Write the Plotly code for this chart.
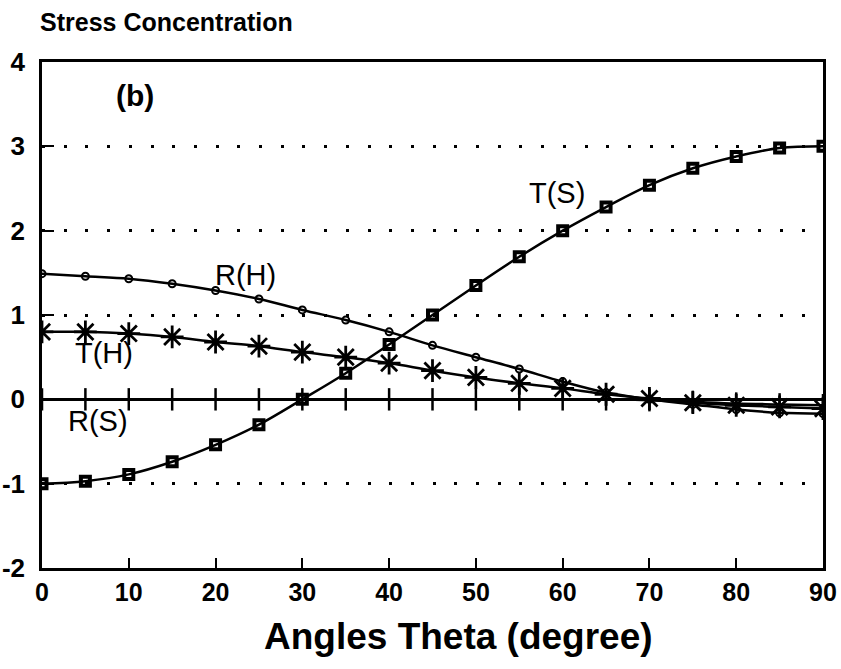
import plotly.graph_objects as go

theta = [0, 5, 10, 15, 20, 25, 30, 35, 40, 45, 50, 55, 60, 65, 70, 75, 80, 85, 90]
T_S = [-1.0, -0.97, -0.89, -0.74, -0.54, -0.30, 0.0, 0.31, 0.65, 1.0, 1.35, 1.69, 2.0, 2.28, 2.54, 2.74, 2.88, 2.98, 3.0]
R_H = [1.49, 1.46, 1.43, 1.37, 1.29, 1.19, 1.06, 0.94, 0.80, 0.64, 0.50, 0.36, 0.21, 0.08, 0.0, -0.06, -0.12, -0.16, -0.17]
T_H = [0.80, 0.80, 0.78, 0.74, 0.68, 0.63, 0.56, 0.50, 0.43, 0.34, 0.26, 0.19, 0.13, 0.06, 0.01, -0.04, -0.07, -0.09, -0.11]
R_S = [0.0, 0.0, 0.0, 0.0, 0.0, 0.0, 0.0, 0.0, 0.0, 0.0, 0.0, 0.0, 0.0, 0.0, -0.01, -0.03, -0.05, -0.06, -0.07]

x_ticks = [0, 10, 20, 30, 40, 50, 60, 70, 80, 90]
y_ticks = [-2, -1, 0, 1, 2, 3, 4]

labels = [("R(H)", 23.4, 1.47), ("T(H)", 7.1, 0.55), ("T(S)", 59.4, 2.45), ("R(S)", 6.4, -0.26)]

FONT = "Liberation Sans, Arial, Helvetica, sans-serif"

fig = go.Figure()

fig.add_trace(go.Scatter(x=theta, y=R_S, mode="lines+markers", line=dict(color="black", width=2.5, shape="spline"),
                         marker=dict(symbol="line-ns-open", size=16, line=dict(color="black", width=2.5)), showlegend=False))
fig.add_trace(go.Scatter(x=theta, y=R_H, mode="lines+markers", line=dict(color="black", width=2.5, shape="spline"),
                         marker=dict(symbol="circle-open", size=7, line=dict(color="black", width=2)), showlegend=False))
fig.add_trace(go.Scatter(x=theta, y=T_H, mode="lines+markers", line=dict(color="black", width=2.5, shape="spline"),
                         marker=dict(symbol="asterisk-open", size=19, line=dict(color="black", width=2.8)), showlegend=False))
fig.add_trace(go.Scatter(x=theta, y=T_S, mode="lines+markers", line=dict(color="black", width=2.5, shape="spline"),
                         marker=dict(symbol="square-open", size=9, line=dict(color="black", width=4)), showlegend=False))

for txt, lx, ly in labels:
    fig.add_annotation(x=lx, y=ly, text=txt, showarrow=False, xref="x", yref="y",
                       font=dict(family=FONT, size=29, color="black"))

fig.add_annotation(x=10.7, y=3.6, text="<b>(b)</b>", showarrow=False, xref="x", yref="y",
                   font=dict(family=FONT, size=30, color="black"))

fig.add_annotation(x=-0.005, y=1.079, xref="paper", yref="paper", xanchor="left", yanchor="middle",
                   text="<b>Stress Concentration</b>", showarrow=False,
                   font=dict(family=FONT, size=25, color="black"))

fig.add_annotation(x=0.533, y=-0.135, xref="paper", yref="paper", xanchor="center", yanchor="middle",
                   text="<b>Angles Theta (degree)</b>", showarrow=False,
                   font=dict(family=FONT, size=37, color="black"))

fig.update_layout(
    width=841, height=669,
    margin=dict(l=42, r=18, t=62, b=101),
    plot_bgcolor="white", paper_bgcolor="white",
    font=dict(family=FONT, color="black"),
    xaxis=dict(range=[0, 90], tickvals=x_ticks, ticktext=["<b>%d</b>" % v for v in x_ticks], automargin=False,
               showgrid=False, zeroline=False, showline=True, linecolor="black", linewidth=2.5, mirror=True,
               ticks="inside", ticklen=10, tickwidth=2, tickcolor="black",
               tickfont=dict(family=FONT, size=25, color="black")),
    yaxis=dict(range=[-2, 4], tickvals=y_ticks, ticktext=["<b>%d</b>" % v for v in y_ticks], automargin=False,
               showgrid=True, gridcolor="black", gridwidth=3, griddash="3px,18.7px",
               zeroline=True, zerolinecolor="black", zerolinewidth=2.5,
               showline=True, linecolor="black", linewidth=2.5, mirror=True,
               ticks="inside", ticklen=12, tickwidth=2, tickcolor="black", ticklabelstandoff=9,
               tickfont=dict(family=FONT, size=26, color="black")),
)

fig.write_html("out.html", config={"displayModeBar": False},
               post_script="document.body.style.margin='0px';")
